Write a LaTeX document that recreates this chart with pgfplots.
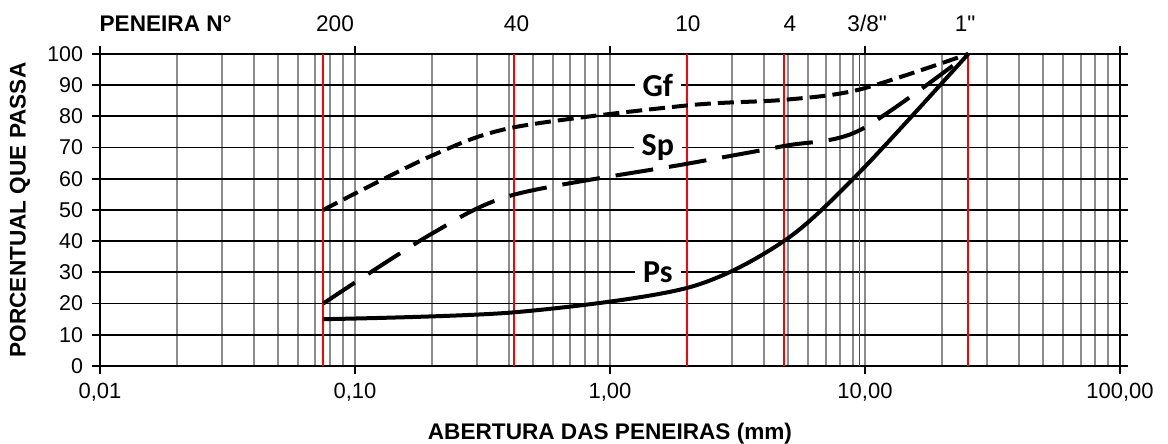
\documentclass[border=0pt]{standalone}
\usepackage{fontspec}
\setmainfont{Liberation Sans}
\newfontfamily\calib{Carlito}
\usepackage{pgfplots}
\pgfplotsset{compat=1.18}
\begin{document}
\begin{tikzpicture}
\useasboundingbox (-50pt,-39pt) rectangle (534pt,183pt);
\begin{axis}[
  scale only axis, width=510pt, height=156pt,
  xmode=log, xmin=0.01, xmax=100, ymin=0, ymax=100,
  ytick={0,10,...,100},
  xtick={0.01,0.1,1,10,100},
  xticklabels={{0,01},{0,10},{1,00},{10,00},{100,00}},
  /pgf/number format/assume math mode=true,
  minor x tick num=8,
  xminorgrids=true, xmajorgrids=true, ymajorgrids=true,
  minor grid style={black!45, line width=1pt},
  major grid style={black!45, line width=1pt},
  y grid style={black, line width=0.9pt},
  axis line style={black, line width=1.1pt},
  tick align=outside, major tick length=4pt, minor tick length=0pt,
  tick style={black, line width=0.9pt},
  x tick label style={font=\fontsize{11}{13}\selectfont, anchor=center, yshift=-9pt},
  y tick label style={font=\fontsize{10.7}{13}\selectfont, xshift=-1pt},
  clip=false,
]
% red sieve lines
\addplot[red, line width=0.8pt] coordinates {(0.075,0) (0.075,100)};
\addplot[red, line width=0.8pt] coordinates {(0.42,0) (0.42,100)};
\addplot[red, line width=0.8pt] coordinates {(2.0,0) (2.0,100)};
\addplot[red, line width=0.8pt] coordinates {(4.8,0) (4.8,100)};
\addplot[red, line width=0.8pt] coordinates {(9.5,0) (9.5,100)};
\addplot[red, line width=0.8pt] coordinates {(25.4,0) (25.4,100)};
% Gf
\addplot[black, line width=2pt, smooth, tension=0.5, dash pattern=on 8pt off 3.5pt] coordinates {
(0.075,50) (0.2,67.4) (0.42,76.5) (2.0,83.5) (4.8,85.3) (9.5,88.6) (25.4,100)};
% Sp
\addplot[black, line width=2pt, smooth, tension=0.5, dash pattern=on 19pt off 8pt] coordinates {
(0.075,20) (0.2,42.4) (0.42,54.9) (2.0,64.8) (4.8,70.5) (9.5,75.5) (25.4,100)};
% Ps
\addplot[black, line width=2pt, smooth, tension=0.5] coordinates {
(0.075,15) (0.42,17.2) (2.0,25) (4.8,40) (9.5,62) (25.4,100)};
\node[fill=white, inner xsep=4pt, inner ysep=0.5pt, font=\calib\bfseries\fontsize{16}{18}\selectfont] at (axis cs:1.54,90) {Gf};
\node[fill=white, inner xsep=4pt, inner ysep=0.5pt, font=\calib\bfseries\fontsize{16}{18}\selectfont] at (axis cs:1.54,70) {Sp};
\node[fill=white, inner xsep=4pt, inner ysep=0.5pt, font=\calib\bfseries\fontsize{16}{18}\selectfont] at (axis cs:1.54,30) {Ps};
% top labels
\node[anchor=base, font=\bfseries\fontsize{11.3}{13}\selectfont] at (axis cs:0.0181,100) [yshift=11pt] {PENEIRA N°};
\node[anchor=base, font=\fontsize{11.3}{13}\selectfont] at (axis cs:0.0835,100) [yshift=11pt] {200};
\node[anchor=base, font=\fontsize{11.3}{13}\selectfont] at (axis cs:0.43,100) [yshift=11pt] {40};
\node[anchor=base, font=\fontsize{11.3}{13}\selectfont] at (axis cs:2.02,100) [yshift=11pt] {10};
\node[anchor=base, font=\fontsize{11.3}{13}\selectfont] at (axis cs:5.08,100) [yshift=11pt] {4};
\node[anchor=base, font=\fontsize{11.3}{13}\selectfont] at (axis cs:10.2,100) [yshift=11pt] {3/8\textquotedbl};
\node[anchor=base, font=\fontsize{11.3}{13}\selectfont] at (axis cs:24.7,100) [yshift=11pt] {1\textquotedbl};
% axis titles
\node[font=\bfseries\fontsize{11.3}{13}\selectfont] at ([yshift=-33.75pt]rel axis cs:0.5,0) {ABERTURA DAS PENEIRAS (mm)};
\node[rotate=90, font=\bfseries\fontsize{11.3}{13}\selectfont] at ([xshift=-40pt]rel axis cs:0,0.5) {PORCENTUAL QUE PASSA};
\end{axis}
\end{tikzpicture}
\end{document}
